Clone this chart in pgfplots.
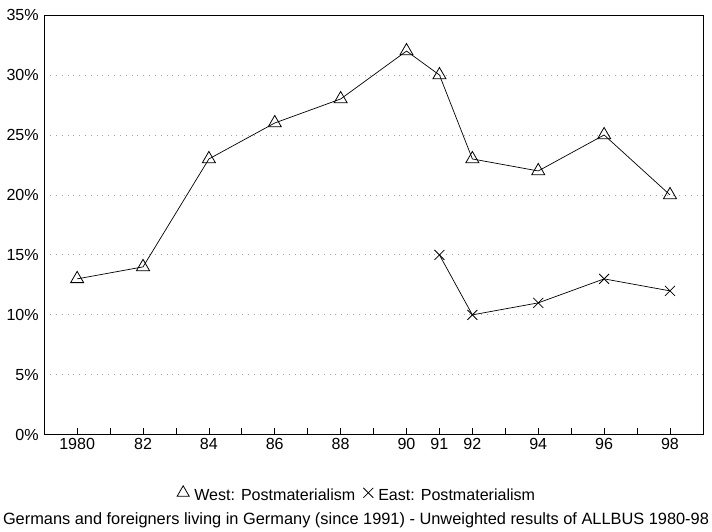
\documentclass[border=0pt]{standalone}
\usepackage{pgfplots}
\pgfplotsset{compat=1.18}
\usepackage{fontspec}
\setmainfont{Liberation Sans}
\begin{document}
\begin{tikzpicture}
\begin{axis}[
  name=main,
  scale only axis,
  width=656pt, height=418pt,
  xmin=1979, xmax=1999,
  ymin=0, ymax=35,
  xtick={1980,...,1998},
  xticklabels={1980,{},82,{},84,{},86,{},88,{},90,91,92,{},94,{},96,{},98},
  ytick={0,5,...,35},
  yticklabel={\pgfmathprintnumber{\tick}\%},
  /pgf/number format/assume math mode=true,
  yticklabel style={xshift=-2pt},
  xtick pos=lower,
  ytick style={draw=none},
  major tick length=7pt,
  tick align=inside,
  ymajorgrids=true,
  grid style={gray!70, line width=0.8pt, dash pattern=on 0.8pt off 5pt},
  tick label style={font=\fontsize{16}{18}\selectfont},
  axis line style={line width=0.8pt},
  every tick/.style={black, line width=0.7pt},
  legend columns=-1,
  legend style={draw=none, at={(0.475,-0.1435)}, anchor=center,
    font=\fontsize{16}{18}\selectfont,
    /tikz/every odd column/.append style={column sep=3pt},
    /tikz/every even column/.append style={column sep=6pt}},
  legend image code/.code={\draw[#1, mark size=7pt] plot coordinates {(0.25cm,0.1cm)};},
]
\addplot[black, line width=0.7pt, mark=triangle, mark size=7.5pt,
  mark options={solid, fill=white, line width=0.8pt}] coordinates {
  (1980,13) (1982,14) (1984,23) (1986,26) (1988,28) (1990,32)
  (1991,30) (1992,23) (1994,22) (1996,25) (1998,20)
};
\addplot[black, line width=0.7pt, mark=x, mark size=7pt,
  mark options={solid, line width=0.8pt}] coordinates {
  (1991,15) (1992,10) (1994,11) (1996,13) (1998,12)
};
\legend{West: Postmaterialism, East: Postmaterialism}
\coordinate (top) at (rel axis cs:0,1);
\coordinate (bot) at (rel axis cs:0.5,0);
\end{axis}
\path ([yshift=15pt]top);
\node[anchor=center, inner xsep=3pt, inner ysep=4pt, font=\fontsize{16.3}{18}\selectfont]
  at ([xshift=-17.5pt,yshift=-85pt]bot)
  {Germans and foreigners living in Germany (since 1991) - Unweighted results of ALLBUS 1980-98};
\end{tikzpicture}
\end{document}
